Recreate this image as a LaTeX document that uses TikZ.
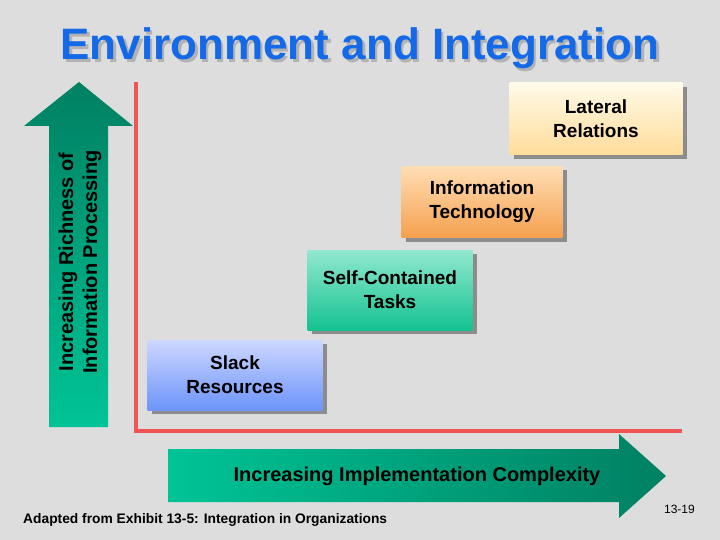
\documentclass[tikz,border=0pt]{standalone}
\usepackage{fontspec}
\setmainfont{Liberation Sans}
\usetikzlibrary{shadows}

\definecolor{pagegray}{RGB}{221,221,221}
\definecolor{titleblue}{RGB}{20,105,232}
\definecolor{axisred}{RGB}{240,85,85}
\definecolor{greendark}{RGB}{0,128,98}
\definecolor{greenlight}{RGB}{0,196,150}

\begin{document}
\begin{tikzpicture}[x=1pt, y=-1pt,
  box/.style={align=center, font=\fontsize{19}{24}\selectfont\bfseries,
    drop shadow={shadow xshift=4pt, shadow yshift=-4pt, fill=black!45, opacity=1}},
  lbl/.style={font=\fontsize{20}{24}\selectfont\bfseries, align=center},
  axis/.style={draw=axisred, line width=4.5pt}
]
  \useasboundingbox (0,0) rectangle (720,540);
  \fill[pagegray] (0,0) rectangle (720,540);

  \node[anchor=base, font=\fontsize{44}{48}\selectfont\bfseries, text=black!30] at (362.5,62.5) {Environment and Integration};
  \node[anchor=base, font=\fontsize{44}{48}\selectfont\bfseries, text=titleblue] (T) at (360,60) {Environment and Integration};

  \draw[axis] (136,82) |- (682,431);

  \shade[top color=greendark, bottom color=greenlight]
    (49,427) -- (49,126) -- (24,126) -- (79,82) -- (133,126) -- (108,126) -- (108,427) -- cycle;
  \shade[left color=greenlight, right color=greendark]
    (168,449) -- (619,449) -- (619,434) -- (666,476) -- (619,518) -- (619,502) -- (168,502) -- cycle;

  \node[lbl, rotate=90] (V) at (80,262) {Increasing Richness of\\Information Processing};
  \node[lbl] (H) at (417,476) {Increasing Implementation Complexity};

  \node[box, minimum width=173pt, minimum height=72pt, top color={rgb,255:red,255;green,250;blue,232}, bottom color={rgb,255:red,255;green,220;blue,155}] (L) at (596,119) {Lateral\\Relations};
  \node[box, minimum width=161pt, minimum height=71pt, top color={rgb,255:red,255;green,222;blue,180}, bottom color={rgb,255:red,245;green,160;blue,78}] (I) at (482,202) {Information\\Technology};
  \node[box, minimum width=165pt, minimum height=80pt, top color={rgb,255:red,145;green,232;blue,208}, bottom color={rgb,255:red,20;green,194;blue,144}] (S) at (390,290) {Self-Contained\\Tasks};
  \node[box, minimum width=175pt, minimum height=70pt, top color={rgb,255:red,205;green,215;blue,255}, bottom color={rgb,255:red,108;green,148;blue,250}] (R) at (235,375) {Slack\\Resources};

  \node[anchor=base west, inner sep=0pt, font=\fontsize{13.8}{15}\selectfont\bfseries] (src) at (23,523) {Adapted from Exhibit 13-5: Integration in Organizations};
  \node[anchor=base east, inner sep=0pt, font=\fontsize{12}{14}\selectfont] (pg) at (695,513) {13-19};
\end{tikzpicture}
\end{document}
